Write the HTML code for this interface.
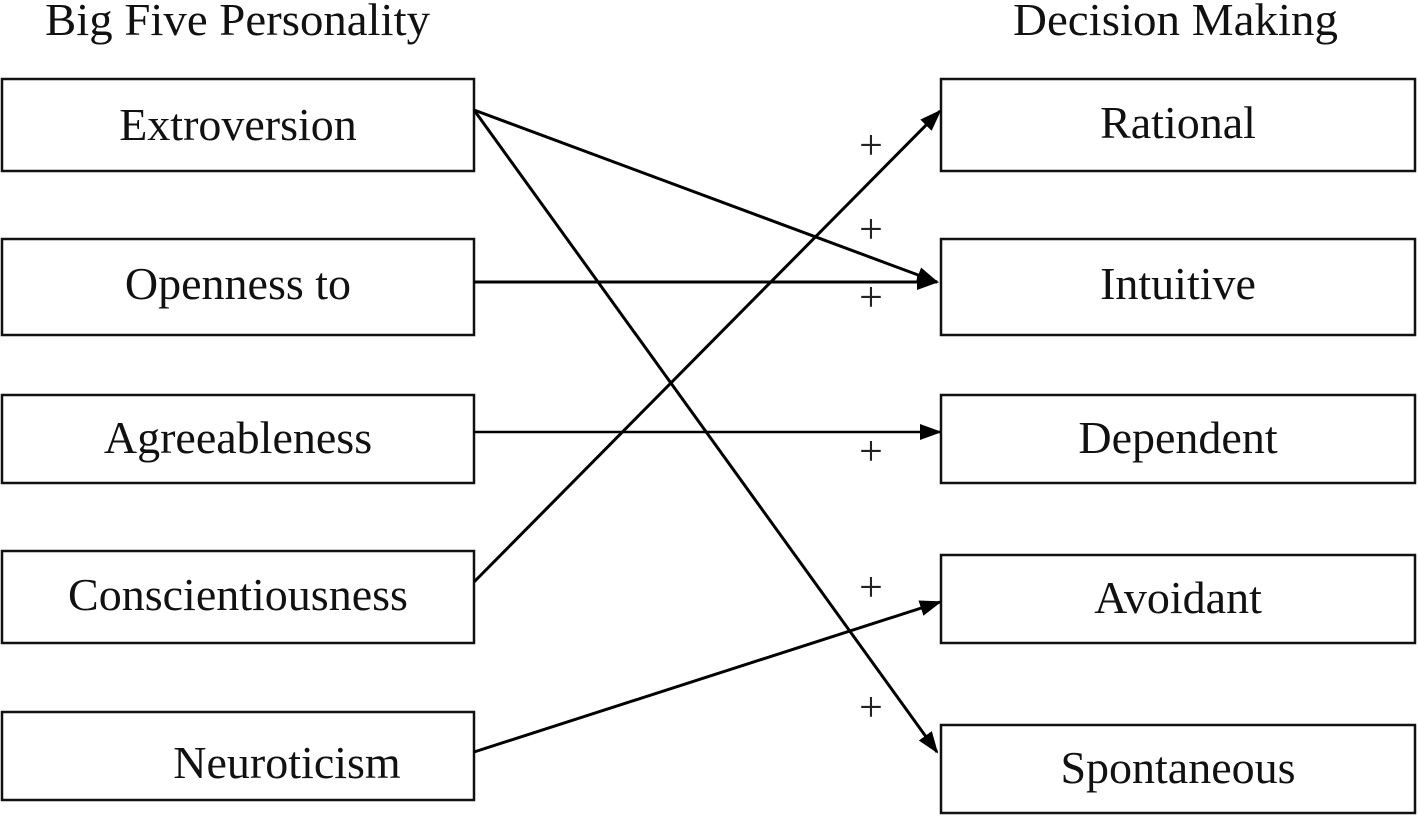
<!DOCTYPE html>
<html><head><style>
body{margin:0;background:#fff;}
svg{display:block;font-family:"Liberation Serif",serif;}
</style></head><body>
<svg width="1418" height="817" viewBox="0 0 1418 817">
<defs>
<marker id="b" markerWidth="22" markerHeight="16" refX="20" refY="8" orient="auto" markerUnits="userSpaceOnUse" viewBox="0 0 22 16"><path d="M0,0 L22,8 L0,16 z" fill="#000"/></marker></defs>
<g font-size="46" fill="#111">
<text x="45" y="35" textLength="385" lengthAdjust="spacingAndGlyphs">Big Five Personality</text>
<text x="1013" y="35" textLength="325" lengthAdjust="spacingAndGlyphs">Decision Making</text>
</g>
<g fill="none" stroke="#111" stroke-width="2.5">
<rect x="2" y="79" width="472" height="92"/>
<rect x="2" y="239" width="472" height="96"/>
<rect x="2" y="395" width="472" height="88"/>
<rect x="2" y="551" width="472" height="92"/>
<rect x="2" y="712" width="472" height="88"/>
<rect x="941" y="79" width="474" height="92"/>
<rect x="941" y="239" width="474" height="96"/>
<rect x="941" y="395" width="474" height="88"/>
<rect x="941" y="555" width="474" height="88"/>
<rect x="941" y="725" width="474" height="88"/>
</g>
<g font-size="46" fill="#111" text-anchor="middle">
<text x="238" y="140">Extroversion</text>
<text x="238" y="299">Openness to</text>
<text x="238" y="453">Agreeableness</text>
<text x="238" y="610">Conscientiousness</text>
<text x="287" y="778">Neuroticism</text>
<text x="1178" y="138">Rational</text>
<text x="1178" y="299">Intuitive</text>
<text x="1178" y="453">Dependent</text>
<text x="1178" y="613">Avoidant</text>
<text x="1178" y="783">Spontaneous</text>
</g>
<g stroke="#000" stroke-width="3" marker-end="url(#b)">
<line x1="474" y1="110" x2="937" y2="282"/>
<line x1="474" y1="110" x2="937" y2="752"/>
<line x1="474" y1="282" x2="937" y2="282"/>
<line x1="474" y1="432" x2="940" y2="432" stroke-width="2.5"/>
<line x1="474" y1="582" x2="940" y2="111"/>
<line x1="474" y1="752" x2="940" y2="602"/>
</g>
<g font-size="42" fill="#222" text-anchor="middle">
<text x="871" y="159">+</text>
<text x="871" y="243">+</text>
<text x="871" y="311">+</text>
<text x="871" y="465">+</text>
<text x="871" y="601">+</text>
<text x="871" y="721">+</text>
</g>
</svg>
</body></html>
